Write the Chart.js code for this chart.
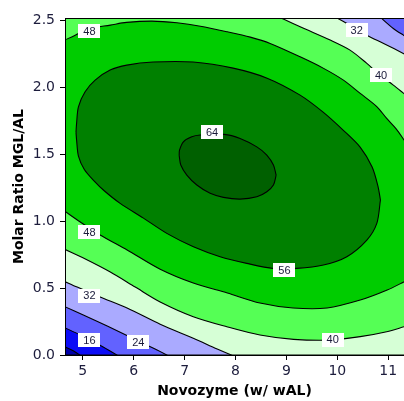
<!DOCTYPE html>
<html>
<head>
<meta charset="utf-8">
<script src="https://cdn.jsdelivr.net/npm/chart.js@4.4.1/dist/chart.umd.min.js"></script>
<style>
  body { margin: 0; background: #fff; }
  canvas { display: block; }
</style>
</head>
<body>
<canvas id="contourChart" width="404" height="401"></canvas>
<script>
// axis ticks
const xTicks = [5, 6, 7, 8, 9, 10, 11];
const yTicks = [0.0, 0.5, 1.0, 1.5, 2.0, 2.5];

// contour lines, as [novozyme, molar ratio]
// pieces running out through the top / right edge
const top48 = [[4.64, 2.350], [4.85, 2.388], [5.14, 2.438], [5.54, 2.463], [5.86, 2.483], [6.36, 2.493], [6.85, 2.480], [7.31, 2.455], [7.84, 2.413], [8.29, 2.373], [8.68, 2.326], [9.27, 2.226], [9.73, 2.140], [10.12, 2.052], [10.45, 1.953], [10.78, 1.853], [10.97, 1.766], [11.16, 1.687], [11.33, 1.595]];
const top40 = [[8.82, 2.53], [9.27, 2.450], [9.86, 2.351], [10.25, 2.276], [10.58, 2.177], [10.84, 2.090], [11.10, 2.015], [11.33, 1.945]];
const top32 = [[9.93, 2.53], [10.25, 2.463], [10.58, 2.388], [10.91, 2.326], [11.33, 2.245]];
const top24 = [[10.82, 2.53], [11.10, 2.438], [11.33, 2.380]];

// pieces running out through the bottom edge
const bot48 = [[4.64, 1.075], [4.95, 0.993], [5.34, 0.896], [5.87, 0.784], [6.52, 0.640], [7.17, 0.537], [7.84, 0.463], [8.48, 0.388], [9.13, 0.351], [9.80, 0.351], [10.45, 0.410], [10.98, 0.485], [11.33, 0.550]];
const bot40 = [[4.64, 0.790], [5.05, 0.716], [5.54, 0.619], [6.03, 0.507], [6.52, 0.396], [7.17, 0.286], [7.83, 0.211], [8.48, 0.149], [9.14, 0.117], [9.89, 0.112], [10.45, 0.137], [10.97, 0.174], [11.33, 0.213]];
const bot32 = [[4.64, 0.550], [4.89, 0.507], [5.34, 0.433], [5.87, 0.351], [6.52, 0.230], [7.17, 0.125], [7.64, 0.045], [8.10, -0.03]];
const bot24 = [[4.64, 0.362], [5.01, 0.299], [5.48, 0.216], [6.09, 0.104], [6.46, 0.037], [6.80, -0.03]];
const bot16 = [[4.64, 0.205], [4.95, 0.149], [5.40, 0.060], [5.80, -0.03]];
const bot8 = [[4.64, 0.062], [4.82, 0.030], [5.05, -0.03]];

// closed contours, split in upper and lower halves
const c56Upper = [[4.866, 1.664], [4.878, 1.731], [4.914, 1.853], [5.045, 1.965], [5.242, 2.052], [5.536, 2.127], [5.864, 2.164], [6.381, 2.187], [7.167, 2.187], [7.953, 2.142], [8.621, 2.067], [9.269, 1.940], [9.721, 1.813], [10.114, 1.679], [10.448, 1.552], [10.684, 1.403], [10.802, 1.254], [10.847, 1.157]];
const c56Lower = [[4.866, 1.664], [4.878, 1.604], [4.914, 1.485], [5.030, 1.385], [5.220, 1.300], [5.420, 1.226], [5.733, 1.132], [6.191, 1.022], [6.650, 0.908], [7.173, 0.808], [7.697, 0.734], [8.222, 0.684], [8.745, 0.646], [9.204, 0.647], [9.727, 0.672], [10.187, 0.734], [10.580, 0.858], [10.776, 0.983], [10.847, 1.157]];
const c64Upper = [[6.893, 1.490], [6.900, 1.530], [6.976, 1.592], [7.141, 1.629], [7.305, 1.642], [7.776, 1.647], [8.090, 1.617], [8.418, 1.554], [8.615, 1.493], [8.745, 1.418], [8.798, 1.343]];
const c64Lower = [[6.893, 1.490], [6.925, 1.418], [7.043, 1.343], [7.240, 1.269], [7.501, 1.207], [7.762, 1.177], [8.090, 1.164], [8.418, 1.181], [8.615, 1.219], [8.745, 1.269], [8.798, 1.343]];

// level labels: text, novozyme, molar ratio
const levelLabels = [
    ['48', 5.13, 2.418], ['32', 10.38, 2.423], ['40', 10.86, 2.090],
    ['64', 7.54, 1.664], ['56', 8.96, 0.631], ['40', 9.91, 0.114],
    ['48', 5.13, 0.918], ['32', 5.13, 0.444], ['16', 5.13, 0.110], ['24', 6.09, 0.097]
];

const colors = {
    navy: '#0000a8',
    blue: '#0c0cf6',
    midBlue: '#6262ff',
    lavender: '#aaaaff',
    pale: '#d6ffd6',
    lightGreen: '#55ff55',
    green: '#00cc00',
    darkGreen: '#008000',
    darkest: '#006000'
};

function contour(points, fill, color, order) {
    return {
        data: points.map(p => ({ x: p[0], y: p[1] })),
        fill: fill,
        backgroundColor: color || 'transparent',
        borderColor: '#000',
        borderWidth: 1.1,
        pointRadius: 0,
        tension: 0.3,
        order: order,
        clip: 0
    };
}

const datasets = [
    contour(top48, 'end', colors.lightGreen, 20),
    contour(top40, 'end', colors.pale, 19),
    contour(top32, 'end', colors.lavender, 18),
    contour(top24, 'end', colors.midBlue, 17),
    contour(bot48, 'start', colors.lightGreen, 16),
    contour(bot40, 'start', colors.pale, 15),
    contour(bot32, 'start', colors.lavender, 14),
    contour(bot24, 'start', colors.midBlue, 13),
    contour(bot16, 'start', colors.blue, 12),
    contour(bot8, 'start', colors.navy, 11),
    contour(c56Lower, false, null, 10),
    contour(c56Upper, { target: 10 }, colors.darkGreen, 9),
    contour(c64Lower, false, null, 8),
    contour(c64Upper, { target: 12 }, colors.darkest, 7)
];

// paints the 48-56 band behind everything
const areaBackground = {
    id: 'areaBackground',
    beforeDraw(chart) {
        const { ctx, chartArea: a } = chart;
        ctx.save();
        ctx.fillStyle = colors.green;
        ctx.fillRect(a.left, a.top, a.width, a.height);
        ctx.restore();
    }
};

// frame and the white level boxes
const levelBoxes = {
    id: 'levelBoxes',
    afterDatasetsDraw(chart) {
        const { ctx, chartArea: a, scales: { x, y } } = chart;
        ctx.save();
        ctx.strokeStyle = '#000';
        ctx.lineWidth = 1;
        ctx.strokeRect(a.left + 0.5, a.top + 0.5, a.width, a.height - 0.5);
        ctx.font = '11px "Liberation Sans"';
        ctx.textAlign = 'center';
        ctx.textBaseline = 'middle';
        levelLabels.forEach(([text, vx, vy]) => {
            const px = x.getPixelForValue(vx);
            const py = y.getPixelForValue(vy);
            ctx.fillStyle = '#fff';
            ctx.fillRect(Math.round(px - 11), Math.round(py - 7), 22, 14);
            ctx.fillStyle = '#1a1a3a';
            ctx.fillText(text, px, py + 0.5);
        });
        ctx.restore();
    }
};

const tickFont = { family: 'DejaVu Sans', size: 14 };
const titleFont = { family: 'DejaVu Sans', size: 14, weight: 'bold' };

const ctx = document.getElementById('contourChart').getContext('2d');
const contourChart = new Chart(ctx, {
    type: 'line',
    data: { datasets: datasets },
    plugins: [areaBackground, levelBoxes],
    options: {
        responsive: false,
        animation: false,
        layout: { padding: { top: 18, right: 0, bottom: 0, left: 0 } },
        plugins: {
            legend: { display: false },
            tooltip: { enabled: false },
            filler: { drawTime: 'beforeDatasetsDraw' }
        },
        scales: {
            x: {
                type: 'linear',
                min: 4.65,
                max: 11.31,
                afterBuildTicks: (scale) => { scale.ticks = xTicks.map(v => ({ value: v })); },
                afterFit: (scale) => { scale.height = 46; },
                ticks: { font: tickFont, color: '#1c1c3c', padding: 3, maxRotation: 0 },
                grid: { drawOnChartArea: false, tickLength: 5, color: '#000' },
                border: { color: '#000' },
                title: { display: true, text: 'Novozyme (w/ wAL)', font: titleFont, color: '#000', padding: { top: 0, bottom: 1 } }
            },
            y: {
                type: 'linear',
                min: 0,
                max: 2.516,
                afterBuildTicks: (scale) => { scale.ticks = yTicks.map(v => ({ value: v })); },
                afterFit: (scale) => { scale.width = 65; },
                ticks: { font: tickFont, color: '#1c1c3c', padding: 5, callback: v => v.toFixed(1) },
                grid: { drawOnChartArea: false, tickLength: 5, color: '#000' },
                border: { color: '#000' },
                title: { display: true, text: 'Molar Ratio MGL/AL', font: titleFont, color: '#000', padding: { top: 10.6, bottom: 0 } }
            }
        }
    }
});
</script>
</body>
</html>
